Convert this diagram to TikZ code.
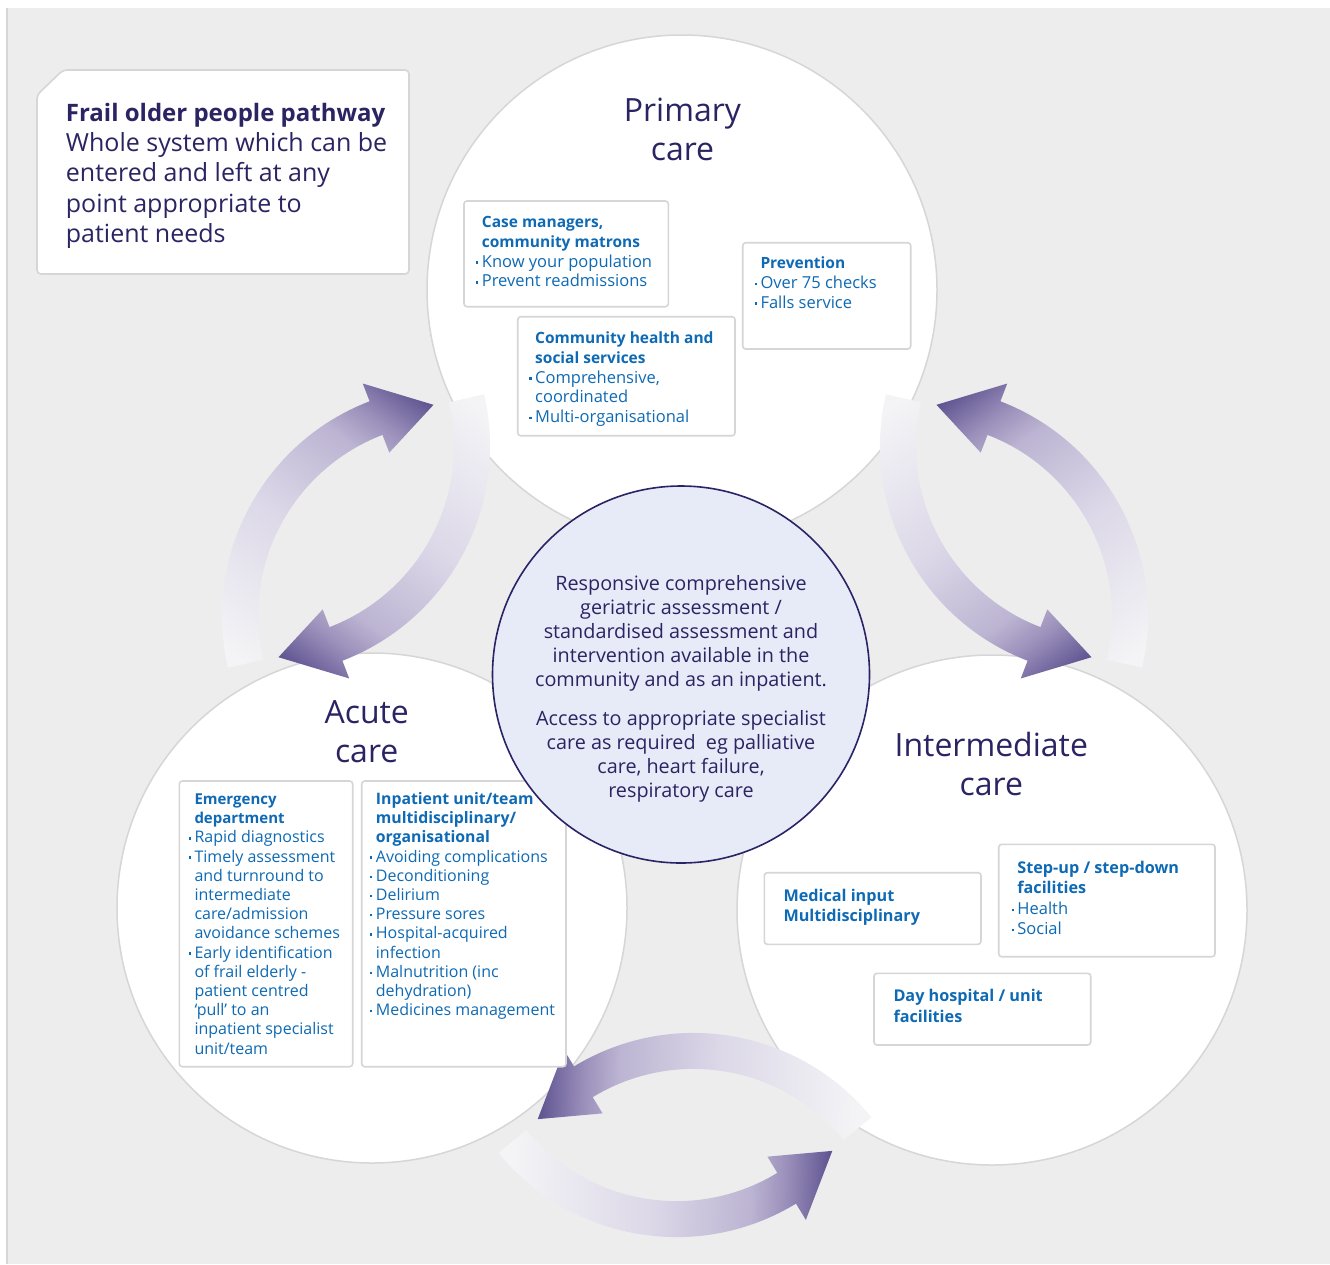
\documentclass[tikz,border=0pt]{standalone}
\usepackage{fontspec}
\setmainfont{Open Sans}
\usetikzlibrary{calc}

\definecolor{bggray}{HTML}{EDEDED}
\definecolor{edgegray}{HTML}{D6D6D6}
\definecolor{navy}{HTML}{2B2463}
\definecolor{tblue}{HTML}{0E6AB4}
\definecolor{cfill}{HTML}{E7EBF8}
\definecolor{cedge}{HTML}{2A2366}
\definecolor{arL}{HTML}{F4F4F6}
\definecolor{arM}{HTML}{DCD8E8}
\definecolor{arN}{HTML}{BCB4D2}
\definecolor{arO}{HTML}{9A8FBA}
\definecolor{arD}{HTML}{5E5290}

\pgfdeclarehorizontalshading{arrowgrad}{100bp}{color(0bp)=(arL); color(37.5bp)=(arL); color(48.5bp)=(arM); color(56.25bp)=(arN); color(59bp)=(arO); color(62.5bp)=(arD); color(100bp)=(arD)}

% curved gradient arrow: centre x, centre y, tail angle, head-base angle, tip angle
\newcommand\gradarrow[5]{%
  \pgfmathsetmacro\gTx{#1+212*cos(#3)}%
  \pgfmathsetmacro\gTy{#2+212*sin(#3)}%
  \pgfmathsetmacro\gPx{#1+212*cos(#5)}%
  \pgfmathsetmacro\gPy{#2+212*sin(#5)}%
  \pgfmathsetmacro\gAng{atan2(\gPy-\gTy,\gPx-\gTx)}%
  \pgfmathsetmacro\gMx{(\gTx+\gPx)/2}%
  \pgfmathsetmacro\gMy{(\gTy+\gPy)/2}%
  \begin{scope}
    \clip ($(#1,#2)+(#3:230)$) arc[start angle=#3, end angle=#4, radius=230]
      -- ($(#1,#2)+(#4:249)$) -- ($(#1,#2)+(#5:212)$) -- ($(#1,#2)+(#4:175)$)
      -- ($(#1,#2)+(#4:194)$) arc[start angle=#4, end angle=#3, radius=194] -- cycle;
    \shade[shading=arrowgrad, shading angle=\gAng] (\gMx-320,\gMy-320) rectangle (\gMx+320,\gMy+320);
  \end{scope}}

\newcommand\bul{\llap{\raisebox{3.4pt}{\rule{2.3pt}{2.3pt}}\hspace{3.6pt}}}
\newcommand\tb[2]{{\fontsize{#1}{#1}\selectfont\bfseries #2}}

\tikzset{
  bigcircle/.style={circle, draw=edgegray, line width=1.5pt, fill=white, minimum size=510pt, inner sep=0},
  corecircle/.style={circle, draw=cedge, line width=1.6pt, fill=cfill, minimum size=377pt, inner sep=0},
  frame/.style={draw=edgegray, line width=1.6pt, fill=white, rounded corners=3pt},
  titletext/.style={inner sep=0, anchor=north, align=center, text=navy, font=\fontsize{32}{39}\selectfont},
  coretext/.style={inner sep=0, anchor=north, align=center, text=navy, font=\fontsize{19.8}{24}\selectfont},
  introtext/.style={inner sep=0, anchor=north west, align=left, text=navy, font=\fontsize{25}{30.3}\selectfont},
  primtext/.style={inner sep=0, anchor=north west, align=left, text=tblue, font=\fontsize{16.5}{19.8}\selectfont},
  acutetext/.style={inner sep=0, anchor=north west, align=left, text=tblue, font=\fontsize{16}{19.2}\selectfont},
  intertext/.style={inner sep=0, anchor=north west, align=left, text=tblue, font=\fontsize{16.5}{20.4}\selectfont},
}

\begin{document}
\begin{tikzpicture}[x=1pt, y=1pt]
\useasboundingbox (0,0) rectangle (1330,-1264);
\fill[white] (0,0) rectangle (1330,-1264);
\fill[bggray] (7,-8) rectangle (1330,-1264);
\draw[edgegray, line width=1.2pt] (7,-8) -- (7,-1264);

% intro box
\draw[frame, rounded corners=4pt] (37,-274) -- (37,-95) -- (63,-70) -- (409,-70) -- (409,-274) -- cycle;
\node[introtext] (intro) at (65.7,-95) {\rule{0pt}{26pt}\tb{24}{Frail older people pathway}\\Whole system which can be\\entered and left at any\\point appropriate to\\patient needs};

% three care circles
\node[bigcircle] (primary) at (682,-290) {};
\node[bigcircle] (acute) at (372,-908) {};
\node[bigcircle] (inter) at (992,-910) {};

% arrows
\gradarrow{452}{-616}{193}{111}{95}
\gradarrow{260}{-446}{13}{-69}{-85}
\gradarrow{918}{-616}{-13}{69}{85}
\gradarrow{1110}{-446}{167}{249}{265}
\gradarrow{693.5}{-1262.9}{39.3}{121.3}{137.3}
\gradarrow{676.5}{-1007.1}{-140.7}{-58.7}{-42.7}

% boxes
\draw[frame] (464,-201) rectangle (668.3,-306.7);
\draw[frame] (742.7,-242.7) rectangle (910.7,-349);
\draw[frame] (517.7,-316.7) rectangle (735,-435.7);
\draw[frame] (179.3,-781) rectangle (352.7,-1066.7);
\draw[frame] (361.7,-781) rectangle (566,-1066.7);
\draw[frame] (764.3,-872.7) rectangle (981,-944.3);
\draw[frame] (998.7,-844.3) rectangle (1215,-956.7);
\draw[frame] (874,-973.3) rectangle (1090.7,-1045);

% central circle
\node[corecircle] (core) at (681,-674.5) {};

% titles
\node[titletext] (ptitle) at (682.5,-89) {\rule{0pt}{32pt}Primary\\care};
\node[titletext] (atitle) at (366.7,-691.3) {\rule{0pt}{32pt}Acute\\care};
\node[titletext] (ititle) at (991.3,-724.7) {\rule{0pt}{32pt}Intermediate\\care};

\node[coretext] (coretxt) at (681,-570) {\rule{0pt}{20pt}Responsive comprehensive\\geriatric assessment /\\standardised assessment and\\intervention available in the\\community and as an inpatient.\\[15pt]Access to appropriate specialist\\care as required \ eg palliative\\care, heart failure,\\respiratory care};

% primary care texts
\node[primtext] (casemgr) at (481.7,-211.3) {\rule{0pt}{16pt}\tb{15.5}{Case managers,}\\\tb{15.5}{community matrons}\\\bul Know your population\\\bul Prevent readmissions};
\node[primtext] (prevent) at (760.3,-252.3) {\rule{0pt}{16pt}\tb{15.5}{Prevention}\\\bul Over 75 checks\\\bul Falls service};
\node[primtext] (community) at (535,-327.3) {\rule{0pt}{16pt}\tb{15.5}{Community health and}\\\tb{15.5}{social services}\\\bul Comprehensive,\\coordinated\\\bul Multi-organisational};

% acute care texts
\node[acutetext] (emerg) at (194.3,-788.3) {\rule{0pt}{16pt}\tb{15}{Emergency}\\\tb{15}{department}\\\bul Rapid diagnostics\\\bul Timely assessment\\and turnround to\\intermediate\\care/admission\\avoidance schemes\\\bul Early identification\\of frail elderly -\\patient centred\\‘pull’ to an\\inpatient specialist\\unit/team};
\node[acutetext] (inpat) at (375.7,-788.3) {\rule{0pt}{16pt}\tb{15.8}{Inpatient unit/team}\\\tb{15.8}{multidisciplinary/}\\\tb{15.8}{organisational}\\\bul Avoiding complications\\\bul Deconditioning\\\bul Delirium\\\bul Pressure sores\\\bul Hospital-acquired\\infection\\\bul Malnutrition (inc\\dehydration)\\\bul Medicines management};

% intermediate care texts
\node[intertext] (medical) at (783.3,-885) {\rule{0pt}{16pt}\tb{16.2}{Medical input}\\\tb{16.2}{Multidisciplinary}};
\node[intertext] (stepup) at (1017.2,-857.3) {\rule{0pt}{16pt}\tb{16.2}{Step-up / step-down}\\\tb{16.2}{facilities}\\\bul Health\\\bul Social};
\node[intertext] (dayhosp) at (893.3,-985.7) {\rule{0pt}{16pt}\tb{16.2}{Day hospital / unit}\\\tb{16.2}{facilities}};
\end{tikzpicture}
\end{document}
